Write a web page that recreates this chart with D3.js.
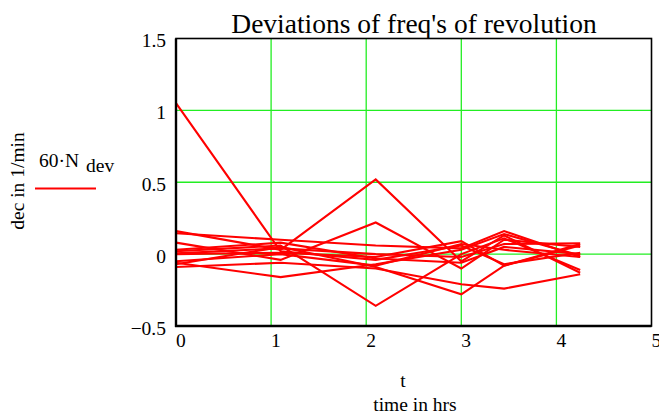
<!DOCTYPE html>
<html>
<head>
<meta charset="utf-8">
<script src="https://cdn.jsdelivr.net/npm/d3@7"></script>
<style>
  html, body { margin: 0; padding: 0; background: #fff; }
  svg { display: block; }
  text { font-family: "Liberation Serif", "DejaVu Serif", serif; fill: #000; }
</style>
</head>
<body>
<svg id="chart" width="659" height="414"></svg>
<script>
// Measurement times (hours)
const times = [0, 1.1, 2.1, 3.0, 3.45, 4.25];

// Deviations of revolution frequency, one run per array (1/min)
const run01 = [1.05, 0.02, -0.04, 0.06, -0.07, 0.01];
const run02 = [0.16, 0.03, 0.52, -0.05, 0.13, -0.13];
const run03 = [0.145, 0.10, 0.06, 0.04, 0.16, -0.02];
const run04 = [0.08, -0.04, 0.22, -0.10, 0.10, 0.05];
const run05 = [0.02, 0.06, -0.36, 0.0, 0.11, -0.11];
const run06 = [0.0, 0.01, -0.02, 0.09, -0.08, 0.07];
const run07 = [-0.06, -0.16, -0.07, 0.03, 0.14, -0.01];
const run08 = [-0.07, 0.05, -0.09, -0.28, -0.08, 0.06];
const run09 = [-0.09, -0.06, -0.10, -0.21, -0.24, -0.14];
const run10 = [0.03, 0.08, -0.03, -0.06, 0.05, 0.0];
const run11 = [-0.05, 0.0, -0.08, 0.07, 0.03, -0.02];
const run12 = [0.005, 0.04, 0.0, -0.02, 0.07, 0.075];
const runs = [run01, run02, run03, run04, run05, run06, run07, run08, run09, run10, run11, run12];

const xTicks = [0, 1, 2, 3, 4, 5];
const yTicks = [-0.5, 0, 0.5, 1, 1.5];
const yTickLabels = ["\u22120.5", "0", "0.5", "1", "1.5"];

const svg = d3.select("#chart");
const pLeft = 176, pRight = 651.5, pTop = 38.5, pBottom = 326;
const fs = 19.5;

const x = d3.scaleLinear().domain([0, 5]).range([pLeft, pRight]);
const y = d3.scaleLinear().domain([-0.5, 1.5]).range([pBottom, pTop]);

// Grid
const grid = svg.append("g");
grid.selectAll("line.gx").data(xTicks.filter(d => d > 0 && d < 5)).join("line")
  .attr("x1", d => x(d)).attr("x2", d => x(d))
  .attr("y1", pTop).attr("y2", pBottom)
  .attr("stroke", "#22ee22").attr("stroke-width", 1.3);
grid.selectAll("line.gy").data(yTicks.filter(d => d > -0.5 && d < 1.5)).join("line")
  .attr("x1", pLeft).attr("x2", pRight)
  .attr("y1", d => y(d)).attr("y2", d => y(d))
  .attr("stroke", "#22ee22").attr("stroke-width", 1.3);

// Series
const line = d3.line().x((d, i) => x(times[i])).y(d => y(d));
svg.append("g").selectAll("path").data(runs).join("path")
  .attr("d", line)
  .attr("fill", "none")
  .attr("stroke", "#ff0000")
  .attr("stroke-width", 2.1)
  .attr("stroke-linejoin", "miter");

// Frame
svg.append("rect")
  .attr("x", pLeft).attr("y", pTop)
  .attr("width", pRight - pLeft).attr("height", pBottom - pTop)
  .attr("fill", "none").attr("stroke", "#000").attr("stroke-width", 1.6);
svg.append("line").attr("x1", pLeft).attr("x2", pLeft).attr("y1", pTop).attr("y2", pBottom + 1)
  .attr("stroke", "#000").attr("stroke-width", 2.4);
svg.append("line").attr("x1", pLeft - 1).attr("x2", pRight).attr("y1", pBottom).attr("y2", pBottom)
  .attr("stroke", "#000").attr("stroke-width", 2.4);

// Tick labels
svg.append("g").selectAll("text").data(yTicks).join("text")
  .attr("x", pLeft - 10).attr("y", d => y(d) + 8.5)
  .attr("text-anchor", "end").attr("font-size", fs)
  .text((d, i) => yTickLabels[i]);
svg.append("g").selectAll("text").data(xTicks).join("text")
  .attr("x", d => x(d)).attr("y", 347)
  .attr("text-anchor", "start").attr("font-size", fs)
  .text(d => d);

// Title
svg.append("text").attr("x", 414).attr("y", 33)
  .attr("text-anchor", "middle").attr("font-size", 27.5)
  .text("Deviations of freq's of revolution");

// Axis titles
svg.append("text").attr("x", 403).attr("y", 387)
  .attr("text-anchor", "middle").attr("font-size", fs).text("t");
svg.append("text").attr("x", 415).attr("y", 411)
  .attr("text-anchor", "middle").attr("font-size", fs).text("time in hrs");
svg.append("text")
  .attr("transform", "translate(24,181) rotate(-90)")
  .attr("text-anchor", "middle").attr("font-size", fs).text("dec in 1/min");

// Legend
const leg = svg.append("text").attr("x", 39).attr("y", 167).attr("font-size", fs);
leg.append("tspan").text("60\u00B7N");
leg.append("tspan").attr("dx", 7).attr("dy", 5).text("dev");
svg.append("line").attr("x1", 35).attr("x2", 96).attr("y1", 188.5).attr("y2", 188.5)
  .attr("stroke", "#ff0000").attr("stroke-width", 2.1);
</script>
</body>
</html>
